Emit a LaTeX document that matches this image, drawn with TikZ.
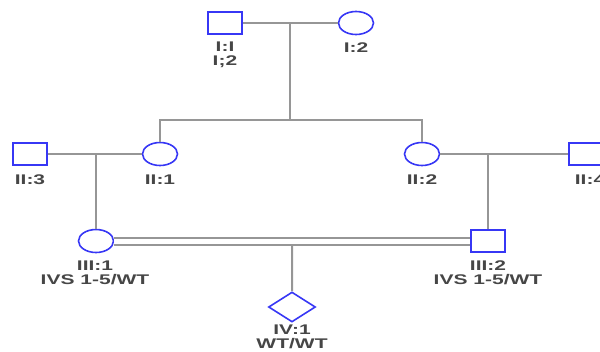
\documentclass[tikz,border=0pt]{standalone}
\usepackage{fontspec}
\setmainfont{Liberation Sans}
\newfontfamily\pedfont[FakeStretch=1.5]{Liberation Sans}
\usetikzlibrary{shapes.geometric, calc}

\definecolor{symblue}{RGB}{55,55,245}
\definecolor{linegray}{RGB}{150,150,150}
\definecolor{tagtext}{RGB}{70,70,70}

\begin{document}
\begin{tikzpicture}[
		x=1pt, y=-1pt,
		% Pedigree symbols
		male/.style={rectangle, draw=symblue, line width=1.6pt, minimum width=34pt, minimum height=22pt, inner sep=0pt},
		female/.style={ellipse, draw=symblue, line width=1.6pt, minimum width=35pt, minimum height=23pt, inner sep=0pt},
		unknown/.style={diamond, aspect=1.55, draw=symblue, line width=1.6pt, minimum width=47pt, minimum height=30pt, inner sep=0pt},
		tag/.style={font=\pedfont\bfseries\fontsize{14}{14}\selectfont, text=tagtext, inner sep=0pt, align=center},
		link/.style={draw=linegray, line width=2pt}
		]
		
		\useasboundingbox (0,0) rectangle (600,351);
		\clip (0,0) rectangle (600,351);
		
		% --- GENERATION I ---
		\node[male] (I1) at (225,23) {};
		\node[female] (I2) at (356,23) {};
		\node[tag] (I1tag) at (225,55) {I:I\\I;2};
		\node[tag] (I2tag) at (356,48) {I:2};
		
		% --- GENERATION II ---
		\node[male] (II3) at (30,154) {};
		\node[female] (II1) at (160,154) {};
		\node[female] (II2) at (422,154) {};
		\node[male] (II4) at (586,154) {};
		\node[tag] (II3tag) at (30,180) {II:3};
		\node[tag] (II1tag) at (160,180) {II:1};
		\node[tag] (II2tag) at (422,180) {II:2};
		\node[tag] (II4tag) at (590,180) {II:4};
		
		% --- GENERATION III (consanguineous couple) ---
		\node[female] (III1) at (96,241) {};
		\node[male] (III2) at (488,241) {};
		\node[tag] (III1tag) at (95,273) {III:1\\IVS 1-5/WT};
		\node[tag] (III2tag) at (488,273) {III:2\\IVS 1-5/WT};
		
		% --- GENERATION IV ---
		\node[unknown] (IV1) at (292,307) {};
		\node[tag] (IV1tag) at (292,337) {IV:1\\[-0.5pt]WT/WT};
		
		% Marriage and descent lines
		\coordinate (m1) at ($(I1.east)!0.5!(I2.west)$);
		\coordinate (sib) at (m1 |- 0,120);
		\draw[link] (I1.east) -- (I2.west);
		\draw[link] (m1) -- (sib);
		\draw[link] (II1.north) |- (sib) -| (II2.north);
		
		\draw[link] (II3.east) -- (II1.west);
		\draw[link] (II1.west -| III1.north) -- (III1.north);
		\draw[link] (II2.east) -- (II4.west);
		\draw[link] (II2.east -| III2.north) -- (III2.north);
		
		% Double line for the related couple, drawn over the drop
		\coordinate (m3) at ($(III1.east)!0.5!(III2.west)$);
		\draw[link] (m3) -- (IV1.north);
		\draw[link, double=white, double distance=5pt] (III1.east) -- (III2.west);
		
	\end{tikzpicture}
\end{document}
